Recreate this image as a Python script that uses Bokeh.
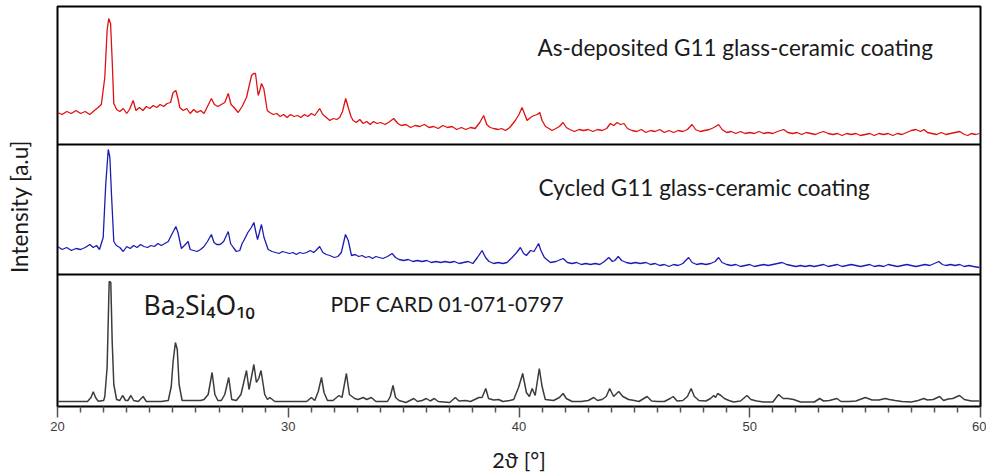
import math
from bokeh.plotting import figure
from bokeh.models import Range1d, Span, Label, FixedTicker
from bokeh.embed import file_html
from bokeh.resources import INLINE

# ---- data (intensity in arbitrary units above each panel's base line) ----
asdep_x = [20.0, 20.2, 20.4, 20.6, 20.8, 21.0, 21.2, 21.4, 21.6, 21.76, 21.9, 22.05, 22.15, 22.22, 22.3, 22.37, 22.44, 22.56, 22.7, 22.85,
           23.0, 23.12, 23.28, 23.4, 23.55, 23.7, 23.85, 24.0, 24.15, 24.3, 24.45, 24.6, 24.75, 24.9, 25.01, 25.13, 25.22, 25.3, 25.45, 25.6,
           25.75, 25.9, 26.05, 26.2, 26.35, 26.5, 26.67, 26.8, 26.95, 27.1, 27.25, 27.4, 27.52, 27.65, 27.83, 28.0, 28.19, 28.3, 28.41, 28.5,
           28.58, 28.7, 28.78, 28.84, 28.94, 29.09, 29.2, 29.35, 29.5, 29.65, 29.8, 29.95, 30.1, 30.25, 30.4, 30.55, 30.7, 30.85, 31.0, 31.15,
           31.36, 31.5, 31.65, 31.8, 31.95, 32.1, 32.23, 32.35, 32.49, 32.6, 32.72, 32.81, 32.95, 33.1, 33.25, 33.4, 33.55, 33.7, 33.85, 34.0,
           34.2, 34.4, 34.57, 34.75, 34.9, 35.1, 35.3, 35.5, 35.7, 35.9, 36.1, 36.3, 36.5, 36.7, 36.9, 37.1, 37.3, 37.5, 37.7, 37.9,
           38.1, 38.3, 38.47, 38.6, 38.75, 38.9, 39.1, 39.25, 39.41, 39.6, 39.84, 40.0, 40.13, 40.25, 40.35, 40.5, 40.65, 40.8, 40.9, 41.0,
           41.15, 41.3, 41.43, 41.6, 41.75, 41.91, 42.05, 42.2, 42.4, 42.6, 42.8, 43.0, 43.2, 43.4, 43.6, 43.8, 43.96, 44.1, 44.25, 44.4,
           44.55, 44.7, 44.9, 45.1, 45.3, 45.5, 45.7, 45.9, 46.1, 46.3, 46.5, 46.7, 46.9, 47.1, 47.3, 47.5, 47.65, 47.85, 48.05, 48.25,
           48.45, 48.65, 48.8, 49.0, 49.2, 49.4, 49.6, 49.8, 50.0, 50.2, 50.4, 50.6, 50.8, 51.0, 51.2, 51.47, 51.65, 51.85, 52.05, 52.25,
           52.45, 52.65, 52.85, 53.05, 53.2, 53.4, 53.6, 53.8, 54.0, 54.2, 54.4, 54.6, 54.8, 55.0, 55.2, 55.4, 55.6, 55.8, 56.0, 56.2,
           56.4, 56.6, 56.8, 57.0, 57.2, 57.4, 57.55, 57.7, 57.9, 58.1, 58.3, 58.5, 58.7, 58.9, 59.1, 59.3, 59.45, 59.6, 59.8, 59.95]
asdep_y = [32, 30, 33, 31, 34, 31, 33, 30, 34, 37, 40, 67, 114, 126, 121, 84, 41, 35, 33, 36,
           31, 35, 44, 34, 37, 34, 38, 36, 39, 37, 40, 38, 41, 42, 52, 54, 46, 37, 34, 36,
           31, 35, 32, 34, 31, 38, 46, 40, 38, 40, 42, 51, 40, 37, 32, 38, 47, 58, 69, 71,
           71, 49, 55, 61, 56, 34, 32, 30, 31, 28, 30, 27, 30, 28, 29, 27, 30, 28, 31, 29,
           36, 30, 27, 24, 26, 25, 27, 33, 46, 37, 28, 24, 22, 25, 21, 23, 20, 23, 21, 22,
           20, 23, 26, 21, 19, 20, 17, 19, 18, 20, 17, 18, 16, 19, 17, 18, 15, 17, 15, 17,
           16, 22, 29, 20, 17, 16, 15, 16, 14, 17, 24, 30, 37, 30, 24, 27, 29, 30, 32, 24,
           18, 16, 14, 16, 18, 22, 17, 15, 13, 15, 14, 15, 13, 15, 14, 16, 21, 19, 22, 20,
           21, 16, 14, 13, 15, 12, 14, 13, 15, 12, 14, 12, 14, 13, 15, 20, 15, 13, 14, 15,
           17, 20, 15, 12, 13, 11, 13, 11, 12, 11, 13, 11, 12, 11, 13, 15, 12, 11, 12, 10,
           12, 11, 10, 12, 13, 11, 10, 11, 9, 11, 10, 11, 9, 10, 11, 9, 11, 10, 11, 9,
           11, 10, 12, 14, 15, 13, 15, 12, 11, 10, 12, 10, 11, 12, 13, 10, 9, 11, 10, 11]

cycled_x = [20.0, 20.2, 20.4, 20.6, 20.8, 21.0, 21.2, 21.4, 21.55, 21.69, 21.82, 21.98, 22.09, 22.2, 22.27, 22.34, 22.44, 22.55, 22.7, 22.85,
            23.0, 23.15, 23.3, 23.45, 23.6, 23.75, 23.9, 24.05, 24.2, 24.35, 24.5, 24.65, 24.8, 24.95, 25.13, 25.22, 25.37, 25.5, 25.66, 25.75,
            25.9, 26.05, 26.2, 26.35, 26.5, 26.67, 26.78, 26.9, 27.05, 27.2, 27.4, 27.5, 27.62, 27.75, 27.9, 28.0, 28.1, 28.25, 28.4, 28.51,
            28.6, 28.67, 28.75, 28.84, 28.95, 29.13, 29.3, 29.45, 29.6, 29.75, 29.9, 30.05, 30.2, 30.35, 30.5, 30.65, 30.8, 30.95, 31.1, 31.2,
            31.36, 31.5, 31.65, 31.8, 32.0, 32.15, 32.3, 32.48, 32.6, 32.74, 32.9, 33.05, 33.2, 33.35, 33.5, 33.65, 33.8, 33.95, 34.1, 34.3,
            34.5, 34.65, 34.8, 35.0, 35.2, 35.4, 35.6, 35.8, 36.0, 36.2, 36.4, 36.6, 36.8, 37.0, 37.2, 37.4, 37.6, 37.8, 38.0, 38.2,
            38.4, 38.55, 38.7, 38.9, 39.1, 39.3, 39.48, 39.7, 39.9, 40.06, 40.2, 40.32, 40.5, 40.65, 40.85, 40.95, 41.1, 41.36, 41.6, 41.91,
            42.1, 42.3, 42.5, 42.7, 42.9, 43.1, 43.3, 43.5, 43.7, 43.89, 44.05, 44.15, 44.3, 44.45, 44.65, 44.85, 45.05, 45.25, 45.5, 45.7,
            45.9, 46.1, 46.3, 46.5, 46.7, 46.9, 47.1, 47.35, 47.5, 47.7, 47.9, 48.1, 48.3, 48.5, 48.65, 48.8, 49.0, 49.2, 49.4, 49.6,
            49.8, 50.0, 50.2, 50.4, 50.6, 50.8, 51.0, 51.2, 51.4, 51.6, 51.8, 52.0, 52.2, 52.4, 52.6, 52.8, 53.0, 53.2, 53.4, 53.6,
            53.8, 54.0, 54.2, 54.4, 54.6, 54.8, 55.0, 55.2, 55.4, 55.6, 55.8, 56.0, 56.2, 56.4, 56.6, 56.8, 57.0, 57.2, 57.4, 57.6,
            57.8, 58.0, 58.19, 58.35, 58.5, 58.7, 58.9, 59.1, 59.3, 59.5, 59.7, 59.95]
cycled_y = [28, 25, 27, 24, 26, 25, 27, 30, 27, 29, 25, 37, 90, 125, 117, 80, 33, 29, 27, 23,
            28, 26, 29, 27, 30, 28, 27, 29, 28, 31, 29, 31, 33, 40, 48, 42, 26, 29, 33, 25,
            24, 23, 25, 28, 33, 40, 32, 30, 30, 33, 43, 31, 27, 23, 24, 31, 35, 42, 47, 52,
            42, 35, 42, 50, 37, 25, 23, 22, 21, 23, 22, 21, 22, 20, 22, 21, 22, 24, 22, 24,
            28, 22, 20, 19, 17, 18, 22, 40, 34, 19, 20, 18, 19, 17, 18, 16, 18, 17, 16, 18,
            21, 17, 15, 14, 15, 13, 14, 13, 14, 12, 13, 12, 13, 12, 13, 11, 12, 13, 11, 17,
            24, 17, 13, 11, 12, 11, 12, 17, 22, 27, 21, 19, 24, 23, 31, 24, 17, 12, 13, 16,
            12, 11, 12, 10, 11, 10, 11, 10, 13, 17, 13, 14, 18, 14, 12, 11, 12, 11, 12, 10,
            11, 9, 10, 8, 10, 9, 11, 17, 12, 10, 11, 10, 11, 13, 17, 12, 10, 9, 10, 8,
            9, 10, 8, 9, 10, 9, 10, 11, 12, 10, 9, 8, 9, 8, 9, 8, 9, 10, 8, 9,
            10, 8, 9, 10, 9, 8, 9, 10, 8, 9, 8, 10, 9, 8, 9, 10, 9, 8, 9, 10,
            9, 11, 13, 10, 9, 10, 9, 10, 8, 9, 8, 7]

card_x = [20.0, 21.3, 21.45, 21.55, 21.65, 21.76, 22.0, 22.05, 22.15, 22.24, 22.31, 22.37, 22.44, 22.56, 22.7, 22.82, 22.95, 23.05, 23.18, 23.3,
          23.5, 23.71, 23.85, 24.5, 24.8, 24.93, 25.01, 25.11, 25.19, 25.27, 25.4, 26.2, 26.35, 26.53, 26.7, 26.82, 26.95, 27.1, 27.25, 27.42,
          27.55, 27.75, 27.95, 28.08, 28.19, 28.3, 28.41, 28.51, 28.62, 28.72, 28.82, 28.98, 29.1, 29.2, 29.42, 30.8, 31.0, 31.15, 31.3, 31.44,
          31.55, 31.7, 31.94, 32.2, 32.33, 32.52, 32.65, 32.88, 33.03, 33.25, 33.4, 33.6, 33.8, 34.3, 34.42, 34.54, 34.65, 34.8, 35.1, 35.44,
          35.6, 35.8, 35.99, 36.15, 36.33, 36.5, 37.0, 37.24, 37.4, 37.68, 37.9, 38.26, 38.4, 38.56, 38.68, 38.9, 39.12, 39.3, 39.6, 39.77,
          39.98, 40.16, 40.32, 40.45, 40.57, 40.7, 40.88, 41.0, 41.14, 41.5, 41.75, 41.91, 42.05, 42.3, 42.7, 43.0, 43.24, 43.4, 43.6, 43.78,
          43.93, 44.1, 44.32, 44.5, 44.75, 45.0, 45.2, 45.55, 45.75, 46.0, 46.3, 46.55, 46.68, 46.85, 47.1, 47.3, 47.46, 47.6, 47.8, 48.1,
          48.3, 48.44, 48.52, 48.61, 48.75, 48.9, 49.1, 49.3, 49.6, 49.88, 50.05, 50.3, 50.6, 51.0, 51.25, 51.45, 51.65, 51.9, 52.2, 52.8,
          53.03, 53.2, 53.45, 53.78, 53.95, 54.3, 54.6, 55.01, 55.3, 55.6, 55.87, 56.05, 56.3, 56.6, 57.0, 57.3, 57.54, 57.7, 57.95, 58.23,
          58.4, 58.6, 58.8, 59.09, 59.3, 59.6, 59.95]
card_y = [5, 5, 9, 14.7, 9, 5.3, 6, 10, 39, 125, 124, 65, 22, 7, 6, 11, 6, 6, 11, 6,
          5, 10, 5, 5, 6, 20, 45, 64, 57, 22, 6, 6, 7, 12, 34, 12, 6, 6, 12, 29,
          7, 6, 12, 25, 36, 17, 30, 42, 24, 28, 36, 12, 7, 9, 5, 5, 9, 6, 15, 29,
          14, 6, 6, 11, 9, 33, 12, 8, 7, 9, 7, 9, 5, 5, 10, 21, 9, 6, 4, 8,
          5, 6, 8, 5.5, 8, 5, 4, 9, 5.5, 6, 5, 9, 9, 18, 8, 6.5, 7, 5, 6, 7,
          19, 33, 14, 10, 18, 11, 38, 20, 7, 6, 9, 13, 8, 5, 5, 6, 9, 6, 7, 10,
          18, 10, 15, 10, 7, 6, 5, 10, 5.5, 5, 5, 8, 10, 5.5, 6, 10, 18, 10, 6, 5.5,
          8, 11, 9, 13, 11, 8, 6, 4.5, 5.5, 11, 7, 5.5, 4.5, 4.5, 12, 8, 8, 7, 4.5, 4.5,
          8, 5.5, 6, 8, 5, 5, 5.5, 9, 6.5, 6.5, 8, 7, 6, 5, 4.5, 6, 8, 6.5, 7, 10,
          6, 7.5, 8, 11, 7, 5.5, 5.5]

x_ticks = [20, 30, 40, 50, 60]
x_minor = [v for v in range(21, 60) if v % 10 != 0]

# ---- layout (frame in pixel-like data units) ----
W, H = 986, 475
LEFT, RIGHT, TOP, BOTTOM = 57, 6, 6, 69
frame_h = H - TOP - BOTTOM          # 400
base_top = 262                      # base line of upper panel
base_mid = 132                      # base line of middle panel
base_bot = 0

p = figure(width=W, height=H, output_backend="svg", toolbar_location=None,
           x_range=Range1d(20, 60), y_range=Range1d(0, frame_h),
           min_border_left=LEFT, min_border_right=RIGHT,
           min_border_top=TOP, min_border_bottom=BOTTOM)
p.background_fill_color = "white"
p.border_fill_color = "white"
p.outline_line_color = "black"
p.outline_line_width = 2
p.grid.visible = False

FONT = "Lato"
TXT = "#1a1a1a"

xa = p.xaxis[0]
xa.ticker = FixedTicker(ticks=x_ticks, minor_ticks=x_minor)
xa.axis_line_color = None
xa.major_tick_in = 0
xa.major_tick_out = 11
xa.minor_tick_in = 0
xa.minor_tick_out = 6
xa.major_tick_line_color = "#555555"
xa.minor_tick_line_color = "#555555"
xa.major_tick_line_width = 1.5
xa.minor_tick_line_width = 1.5
xa.major_label_text_font = "Liberation Sans"
xa.major_label_text_font_size = "13px"
xa.major_label_text_color = "#3c3c3c"
xa.major_label_standoff = 4
xa.axis_label = "2\u03d1 [°]"
xa.axis_label_text_font = FONT
xa.axis_label_text_font_style = "normal"
xa.axis_label_text_font_size = "21.5px"
xa.axis_label_text_color = TXT
xa.axis_label_standoff = 13

ya = p.yaxis[0]
ya.ticker = FixedTicker(ticks=[])
ya.axis_line_color = None
ya.major_tick_out = 0
ya.minor_tick_out = 0
ya.major_label_text_font_size = "0px"
ya.axis_label = "Intensity [a.u]"
ya.axis_label_text_font = FONT
ya.axis_label_text_font_style = "normal"
ya.axis_label_text_font_size = "22.5px"
ya.axis_label_text_color = TXT
ya.axis_label_standoff = 25

p.line(asdep_x, [base_top + v for v in asdep_y], color="#e01010", line_width=1.3)
p.line(cycled_x, [base_mid + v for v in cycled_y], color="#1c1cb4", line_width=1.3)
p.line(card_x, [base_bot + v for v in card_y], color="#3c3c3c", line_width=1.5)

for yb in (base_top, base_mid):
    p.add_layout(Span(location=yb, dimension="width", line_color="black", line_width=2))

p.add_layout(Label(x=40.8, y=frame_h + TOP - 47, text="As-deposited G11 glass-ceramic coating",
                   text_font=FONT, text_font_size="22.5px", text_color=TXT, text_baseline="alphabetic"))
p.add_layout(Label(x=40.85, y=frame_h + TOP - 187, text="Cycled G11 glass-ceramic coating",
                   text_font=FONT, text_font_size="22.5px", text_color=TXT, text_baseline="alphabetic"))
p.add_layout(Label(x=23.73, y=frame_h + TOP - 304, text="Ba\u2082Si\u2084O\u2081\u2080",
                   text_font="Noto Sans", text_font_size="26.5px", text_color=TXT, text_baseline="alphabetic"))
p.add_layout(Label(x=31.83, y=frame_h + TOP - 303, text="PDF CARD 01-071-0797",
                   text_font=FONT, text_font_size="21px", text_color=TXT, text_baseline="alphabetic"))

open("out.html", "w").write(file_html(p, INLINE))
